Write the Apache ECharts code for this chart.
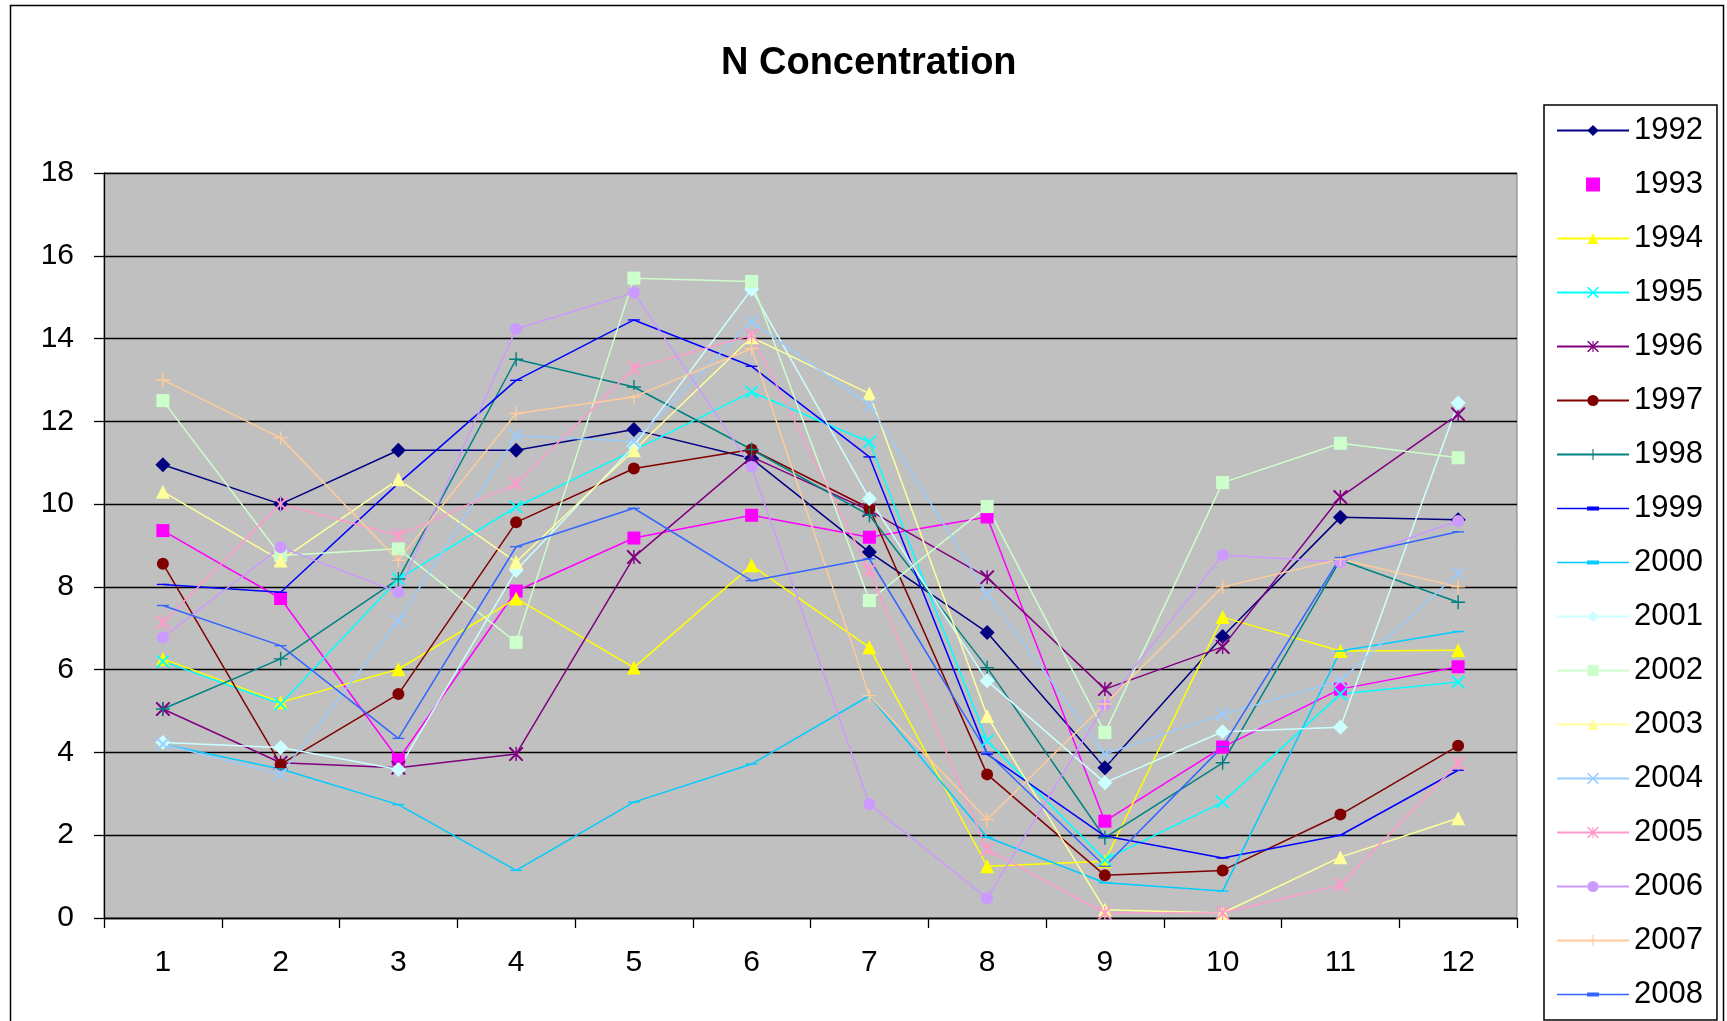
<!DOCTYPE html>
<html>
<head>
<meta charset="utf-8">
<script src="https://cdn.jsdelivr.net/npm/echarts@6/dist/echarts.min.js"></script>
<style>
html,body{margin:0;padding:0;background:#fff;}
#chart{width:1727px;height:1021px;}
</style>
</head>
<body>
<div id="chart"></div>
<script>
// ---- data ----
const months = ['1','2','3','4','5','6','7','8','9','10','11','12'];
const years = ['1992','1993','1994','1995','1996','1997','1998','1999','2000','2001','2002','2003','2004','2005','2006','2007','2008'];
const yTicks = [0,2,4,6,8,10,12,14,16,18];

const y1992 = [10.95, 10.0, 11.3, 11.3, 11.8, 11.1, 8.84, 6.9, 3.63, 6.8, 9.68, 9.62];
const y1993 = [9.36, 7.72, 3.83, 7.9, 9.18, 9.73, 9.2, 9.69, 2.34, 4.13, 5.53, 6.07];
const y1994 = [6.26, 5.21, 6.01, 7.72, 6.05, 8.52, 6.54, 1.25, 1.37, 7.27, 6.45, 6.47];
const y1995 = [6.2, 5.17, 8.19, 9.93, 11.3, 12.71, 11.5, 4.28, 1.41, 2.8, 5.41, 5.7];
const y1996 = [5.05, 3.75, 3.63, 3.96, 8.72, 11.14, 9.85, 8.23, 5.53, 6.55, 10.17, 12.17];
const y1997 = [8.56, 3.71, 5.41, 9.56, 10.86, 11.32, 9.9, 3.47, 1.03, 1.15, 2.5, 4.16];
const y1998 = [5.05, 6.26, 8.19, 13.5, 12.83, 11.32, 9.73, 6.05, 1.94, 3.75, 8.65, 7.63];
const y1999 = [8.06, 7.87, 10.5, 12.99, 14.45, 13.33, 11.14, 3.96, 1.98, 1.45, 2.0, 3.57];
const y2000 = [4.2, 3.6, 2.74, 1.15, 2.8, 3.72, 5.37, 1.95, 0.85, 0.65, 6.45, 6.92];
const y2001 = [4.24, 4.12, 3.59, 8.4, 11.4, 15.19, 10.13, 5.73, 3.27, 4.5, 4.61, 12.44];
const y2002 = [12.5, 8.76, 8.92, 6.66, 15.46, 15.38, 7.67, 9.94, 4.48, 10.52, 11.47, 11.12];
const y2003 = [10.3, 8.64, 10.6, 8.6, 11.3, 14.03, 12.67, 4.88, 0.2, 0.12, 1.47, 2.41];
const y2004 = [4.2, 3.47, 7.18, 11.65, 11.52, 14.41, 12.39, 7.83, 3.96, 4.92, 5.73, 8.33];
const y2005 = [7.14, 10.0, 9.24, 10.5, 13.28, 14.08, 8.4, 1.66, 0.12, 0.12, 0.8, 3.74];
const y2006 = [6.78, 8.96, 7.87, 14.23, 15.11, 10.9, 2.75, 0.48, 5.15, 8.77, 8.6, 9.59];
const y2007 = [13.0, 11.6, 8.64, 12.19, 12.59, 13.76, 5.37, 2.38, 5.17, 8.0, 8.67, 8.0];
const y2008 = [7.55, 6.58, 4.34, 8.97, 9.9, 8.15, 8.68, 4.0, 1.25, 4.14, 8.71, 9.33];

const seriesValues = [y1992, y1993, y1994, y1995, y1996, y1997, y1998, y1999, y2000,
  y2001, y2002, y2003, y2004, y2005, y2006, y2007, y2008];

// ---- styles ----
const X_PATH = 'path://M0,0L1,0L10,9L10,10L9,10L0,1Z M10,0L10,1L1,10L0,10L0,9L9,0Z';
const AST_PATH = X_PATH + ' M4.5,0L5.5,0L5.5,10L4.5,10Z';
const PLUS_PATH = 'path://M4.5,0L5.5,0L5.5,10L4.5,10Z M0,4.5L10,4.5L10,5.5L0,5.5Z';
const SQUARE_PATH = 'path://M0,0L10,0L10,10L0,10Z';
const DASH_PATH = 'path://M0,0L12,0L12,4L0,4Z';
const DASH_LEGEND = 'path://M0,6.25L72,6.25L72,7.75L0,7.75Z M30,5L42,5L42,9L30,9Z';

const styles = [
  {c:'#000080', s:'diamond', z:15},
  {c:'#FF00FF', s:'rect', z:13},
  {c:'#FFFF00', s:'triangle', z:14},
  {c:'#00FFFF', s:X_PATH, z:13},
  {c:'#800080', s:AST_PATH, z:14},
  {c:'#800000', s:'circle', z:12},
  {c:'#008080', s:PLUS_PATH, z:14},
  {c:'#0000FF', s:DASH_PATH, z:[12,4]},
  {c:'#00CCFF', s:DASH_PATH, z:[12,4]},
  {c:'#CCFFFF', s:'diamond', z:15},
  {c:'#CCFFCC', s:'rect', z:13},
  {c:'#FFFF99', s:'triangle', z:14},
  {c:'#99CCFF', s:X_PATH, z:13},
  {c:'#FF99CC', s:AST_PATH, z:14},
  {c:'#CC99FF', s:'circle', z:12},
  {c:'#FFCC99', s:PLUS_PATH, z:14},
  {c:'#3366FF', s:DASH_PATH, z:[12,4]}
];

const FONT = "'Liberation Sans', Arial, sans-serif";

const series = years.map((y, i) => ({
  name: y,
  type: 'line',
  data: seriesValues[i],
  symbol: styles[i].s,
  symbolSize: styles[i].z,
  symbolKeepAspect: true,
  showSymbol: true,
  showAllSymbol: true,
  lineStyle: {color: styles[i].c, width: 1.5},
  itemStyle: {color: styles[i].c, borderWidth: 0},
  emphasis: {disabled: true},
  animation: false
}));

const legendData = years.map((y, i) => {
  if (i === 1) return {name: y, icon: SQUARE_PATH};
  if (styles[i].s === DASH_PATH) return {name: y, icon: DASH_LEGEND};
  return {name: y};
});

const chart = echarts.init(document.getElementById('chart'), null, {renderer: 'canvas'});
chart.setOption({
  backgroundColor: '#ffffff',
  animation: false,
  color: styles.map(s => s.c),
  title: {
    text: 'N Concentration',
    left: 721,
    top: 45,
    padding: 0,
    textStyle: {fontSize: 38, fontWeight: 'bold', fontFamily: FONT, color: '#000'}
  },
  graphic: [{
    type: 'rect',
    silent: true,
    shape: {x: 10.5, y: 5.5, width: 1713, height: 1100},
    style: {fill: 'none', stroke: '#000', lineWidth: 1.5},
    z: -10
  }],
  legend: {
    orient: 'vertical',
    left: 1544,
    top: 105,
    padding: [10, 14, 10, 12],
    itemWidth: 72,
    itemHeight: 14,
    itemGap: 23,
    symbolKeepAspect: true,
    borderColor: '#000',
    borderWidth: 1.5,
    backgroundColor: '#fff',
    selectedMode: false,
    data: legendData,
    textStyle: {fontSize: 31, lineHeight: 31, fontFamily: FONT, color: '#000'}
  },
  grid: {
    left: 104, right: 210, top: 173, bottom: 103,
    show: true,
    backgroundColor: '#C0C0C0',
    borderColor: '#808080',
    borderWidth: 1,
    containLabel: false,
    outerBoundsMode: 'none'
  },
  xAxis: {
    type: 'category',
    data: months,
    boundaryGap: true,
    axisLine: {show: true, lineStyle: {color: '#000', width: 1.3}},
    axisTick: {show: true, length: 10, interval: 0, lineStyle: {color: '#000', width: 1.3}},
    axisLabel: {interval: 0, fontSize: 30, margin: 30, color: '#000', fontFamily: FONT},
    splitLine: {show: false}
  },
  yAxis: {
    type: 'value',
    min: yTicks[0],
    max: yTicks[yTicks.length - 1],
    interval: 2,
    axisLine: {show: true, lineStyle: {color: '#000', width: 1.3}},
    axisTick: {show: true, length: 10, lineStyle: {color: '#000', width: 1.3}},
    axisLabel: {fontSize: 30, margin: 30, color: '#000', fontFamily: FONT},
    splitLine: {show: true, lineStyle: {color: '#000', width: 1.3}}
  },
  series: series
});
</script>
</body>
</html>
